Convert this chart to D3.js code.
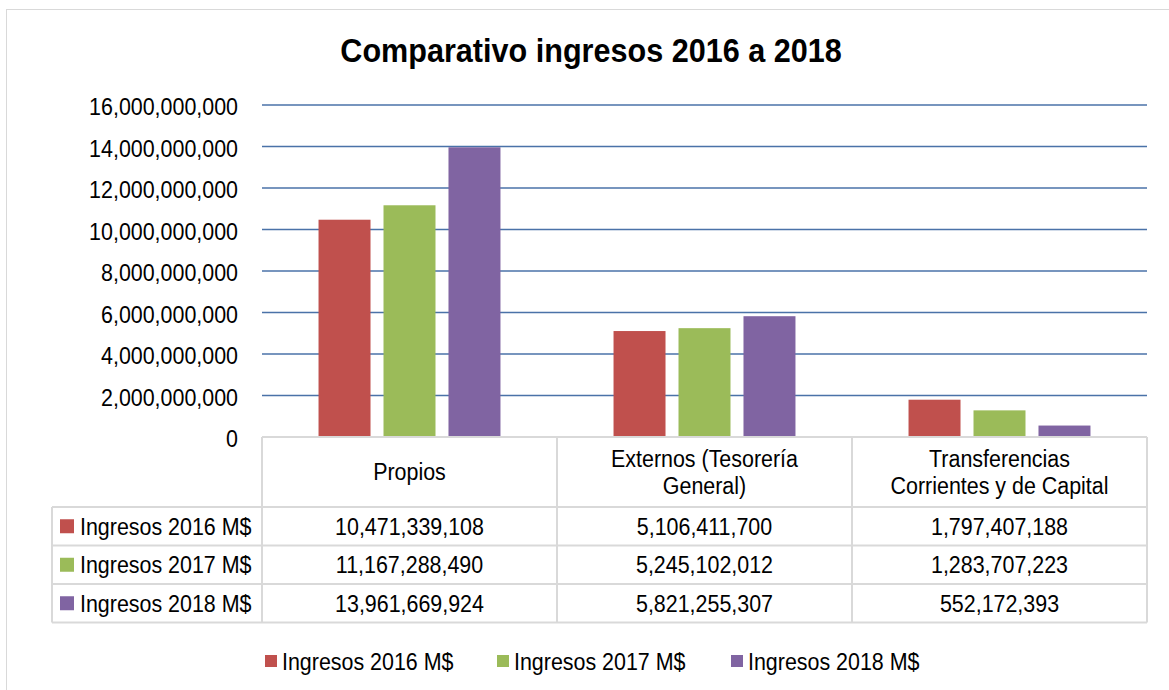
<!DOCTYPE html>
<html>
<head>
<meta charset="utf-8">
<script src="https://cdn.jsdelivr.net/npm/d3@7"></script>
<style>
  body { margin: 0; background: #fff; }
  svg { display: block; font-family: "Liberation Sans", Arial, sans-serif; }
</style>
</head>
<body>
<svg width="1169" height="690"></svg>
<script>
const categories = ['Propios', 'Externos (Tesorería General)', 'Transferencias Corrientes y de Capital'];
const categoryLines = [['Propios'], ['Externos (Tesorería', 'General)'], ['Transferencias', 'Corrientes y de Capital']];
const seriesNames = ['Ingresos 2016 M$', 'Ingresos 2017 M$', 'Ingresos 2018 M$'];
const ingresos2016 = [10471339108, 5106411700, 1797407188];
const ingresos2017 = [11167288490, 5245102012, 1283707223];
const ingresos2018 = [13961669924, 5821255307, 552172393];
const yTicks = [0, 2e9, 4e9, 6e9, 8e9, 10e9, 12e9, 14e9, 16e9];
const colors = ['#c0504d', '#9bbb59', '#8064a2'];

const seriesValues = [ingresos2016, ingresos2017, ingresos2018];

const svg = d3.select('svg');
const plot = { left: 262, right: 1147, top: 105, bottom: 437 };
const fmt = d3.format(',');
// no narrow font installed, so squeeze Liberation Sans horizontally
const FS = 24.5, SX = 0.875;

// text helper: condensed text at (x, y)
const addText = (parent, x, y, str, opts = {}) => {
    return parent.append('text')
        .attr('transform', `translate(${x},${y}) scale(${opts.sx || SX},1)`)
        .attr('text-anchor', opts.anchor || 'start')
        .style('font-size', (opts.size || FS) + 'px')
        .style('font-weight', opts.weight || 'normal')
        .attr('fill', '#000')
        .text(str);
};

// outer frame
svg.append('rect')
    .attr('x', 6.5).attr('y', 9.5)
    .attr('width', 1200).attr('height', 700)
    .attr('fill', 'none').attr('stroke', '#d9d9d9');

// title
addText(svg, 591, 62, 'Comparativo ingresos 2016 a 2018', { anchor: 'middle', size: 33.5, weight: 'bold', sx: 0.913 });

// scales
const x0 = d3.scaleBand().domain(categories).range([plot.left, plot.right]).padding(0);
const x1 = d3.scaleBand().domain(seriesNames).range([0, x0.bandwidth()])
    .paddingInner(0.2).paddingOuter(0.87);
const y = d3.scaleLinear().domain([0, 16e9]).range([plot.bottom, plot.top]);

// gridlines
svg.append('g')
    .selectAll('line')
    .data(yTicks.slice(1))
    .join('line')
    .attr('x1', plot.left).attr('x2', plot.right)
    .attr('y1', d => y(d)).attr('y2', d => y(d))
    .attr('stroke', '#4a72a8').attr('stroke-width', 1.6);

// y axis labels
const yAxis = d3.axisLeft(y).tickValues(yTicks).tickFormat(fmt).tickSize(0).tickPadding(24);
const yg = svg.append('g').attr('transform', `translate(${plot.left},0)`).call(yAxis);
yg.select('.domain').remove();
yg.selectAll('text')
    .attr('fill', '#000')
    .attr('x', -24 / SX)
    .attr('dy', '0.4em')
    .attr('transform', `scale(${SX},1)`)
    .style('font-size', FS + 'px')
    .style('font-family', '"Liberation Sans", Arial, sans-serif');

// bars
seriesNames.forEach((s, i) => {
    svg.append('g')
        .selectAll('rect')
        .data(categories.map((c, j) => ({ c, v: seriesValues[i][j] })))
        .join('rect')
        .attr('x', d => x0(d.c) + x1(s))
        .attr('width', x1.bandwidth())
        .attr('y', d => y(d.v))
        .attr('height', d => y(0) - y(d.v))
        .attr('fill', colors[i]);
});

// data table
const tbl = { left: 52, headerTop: 437, headerBottom: 507, rowH: 38.5 };
const border = svg.append('g').attr('stroke', '#d9d9d9').attr('stroke-width', 2).attr('fill', 'none');
const tableBottom = tbl.headerBottom + tbl.rowH * 3;
border.append('line').attr('x1', plot.left).attr('x2', plot.right).attr('y1', tbl.headerTop).attr('y2', tbl.headerTop);
for (let r = 0; r <= 3; r++) {
    const yy = tbl.headerBottom + r * tbl.rowH;
    border.append('line').attr('x1', tbl.left).attr('x2', plot.right).attr('y1', yy).attr('y2', yy);
}
border.append('line').attr('x1', tbl.left).attr('x2', tbl.left).attr('y1', tbl.headerBottom).attr('y2', tableBottom);
categories.forEach(c => {
    border.append('line').attr('x1', x0(c)).attr('x2', x0(c)).attr('y1', tbl.headerTop).attr('y2', tableBottom);
});
border.append('line').attr('x1', plot.right).attr('x2', plot.right).attr('y1', tbl.headerTop).attr('y2', tableBottom);

// header text
categories.forEach((c, j) => {
    const lines = categoryLines[j];
    const cx = x0(c) + x0.bandwidth() / 2;
    const mid = (tbl.headerTop + tbl.headerBottom) / 2;
    lines.forEach((ln, k) => {
        addText(svg, cx, mid + 8 + (k - (lines.length - 1) / 2) * 27, ln, { anchor: 'middle' });
    });
});

// rows
seriesNames.forEach((s, i) => {
    const top = tbl.headerBottom + i * tbl.rowH;
    const cy = top + tbl.rowH / 2;
    svg.append('rect').attr('x', 60).attr('y', cy - 7).attr('width', 14).attr('height', 14).attr('fill', colors[i]);
    addText(svg, 80, cy + 8.5, s);
    categories.forEach((c, j) => {
        addText(svg, x0(c) + x0.bandwidth() / 2, cy + 8.5, fmt(seriesValues[i][j]), { anchor: 'middle' });
    });
});

// legend
const legendX = [265, 497, 731];
seriesNames.forEach((s, i) => {
    const g = svg.append('g').attr('transform', `translate(${legendX[i]},661)`);
    g.append('rect').attr('x', 0).attr('y', -6).attr('width', 12).attr('height', 12).attr('fill', colors[i]);
    addText(g, 17, 9, s);
});
</script>
</body>
</html>
